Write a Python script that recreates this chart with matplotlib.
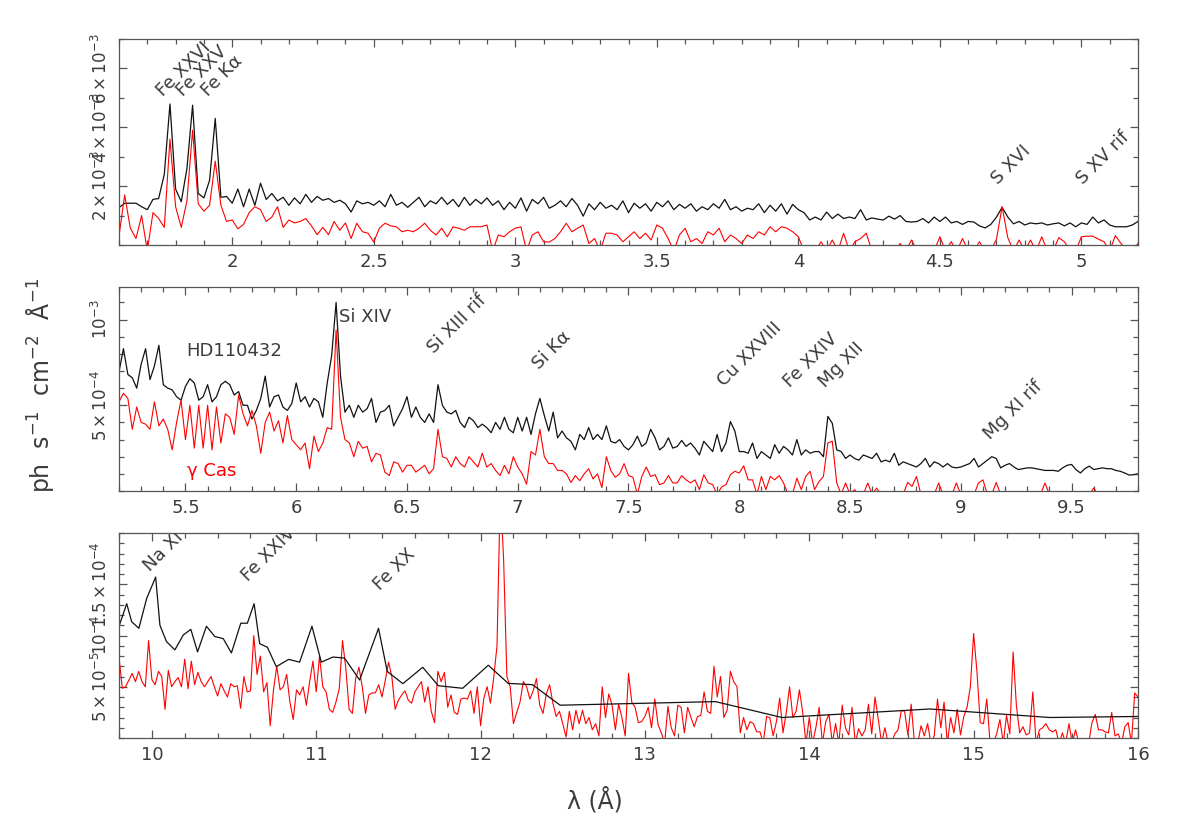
import matplotlib.pyplot as plt
import numpy as np
from matplotlib.ticker import MultipleLocator, FuncFormatter

plt.rcParams['font.family'] = ['DejaVu Sans']
plt.rcParams['mathtext.fontset'] = 'dejavusans'

# ---- top panel, 1.60 - 5.20 A, 0.02 A bins, flux in 1e-3 ph/s/cm2/A
top_start, top_step = 1.60, 0.02
top_hd = [
    1.27, 1.42, 1.42, 1.42, 1.30, 1.20, 1.55, 1.58, 2.40, 4.79,
    1.90, 1.47, 2.60, 4.75, 1.75, 1.60, 2.20, 4.30, 1.62, 1.65,
    1.42, 1.90, 1.30, 1.90, 1.35, 2.10, 1.55, 1.75, 1.50, 1.62,
    1.35, 1.60, 1.40, 1.72, 1.45, 1.65, 1.52, 1.58, 1.45, 1.52,
    1.40, 1.12, 1.50, 1.40, 1.45, 1.35, 1.50, 1.30, 1.72, 1.35,
    1.45, 1.28, 1.45, 1.62, 1.30, 1.50, 1.40, 1.62, 1.38, 1.55,
    1.30, 1.62, 1.35, 1.55, 1.40, 1.60, 1.35, 1.50, 1.20, 1.45,
    1.25, 1.60, 1.15, 1.55, 1.40, 1.62, 1.25, 1.35, 1.50, 1.30,
    1.58, 1.35, 0.98, 1.40, 1.20, 1.45, 1.25, 1.35, 1.20, 1.50,
    1.10, 1.42, 1.25, 1.40, 1.15, 1.45, 1.30, 1.50, 1.20, 1.38,
    1.25, 1.40, 1.15, 1.30, 1.20, 1.40, 1.25, 1.55, 1.20, 1.30,
    1.15, 1.25, 1.20, 1.40, 1.10, 1.35, 1.15, 1.40, 1.05, 1.38,
    1.20, 1.10, 0.85, 0.95, 0.85, 1.12, 0.90, 1.05, 0.90, 0.95,
    0.90, 1.20, 0.85, 0.92, 0.88, 0.85, 0.98, 0.88, 1.00, 0.80,
    0.78, 0.80, 0.90, 0.75, 0.95, 0.80, 0.95, 0.75, 0.80, 0.70,
    0.80, 0.78, 0.65, 0.58, 0.70, 0.95, 1.28, 0.95, 0.72, 0.80,
    0.68, 0.75, 0.72, 0.75, 0.68, 0.72, 0.75, 0.65, 0.75, 0.62,
    0.75, 0.70, 0.95, 0.75, 0.85, 0.68, 0.62, 0.62, 0.62, 0.68,
    0.80,
]
top_gcas = [
    0.30, 1.70, 0.57, 0.22, 1.00, -0.20, 1.10, 0.90, 0.60, 3.60,
    1.30, 0.60, 1.50, 3.90, 1.40, 1.15, 1.35, 2.85, 1.35, 0.80,
    0.85, 0.55, 0.70, 1.10, 1.30, 1.20, 0.80, 0.95, 1.30, 0.60,
    0.85, 0.75, 0.80, 0.90, 0.65, 0.35, 0.60, 0.35, 0.80, 0.50,
    0.75, 0.22, 0.74, 0.45, 0.40, 0.10, 0.57, 0.74, 0.65, 0.62,
    0.45, 0.50, 0.45, 0.57, 0.74, 0.50, 0.34, 0.57, 0.28, 0.62,
    0.57, 0.50, 0.62, 0.62, 0.62, 0.68, -0.20, 0.34, 0.28, 0.45,
    0.57, 0.62, -0.20, 0.34, 0.45, 0.11, 0.10, 0.22, 0.45, 0.74,
    0.45, 0.57, 0.68, 0.05, 0.22, -0.20, 0.40, 0.40, 0.34, 0.11,
    0.28, 0.45, 0.22, 0.40, 0.17, 0.68, 0.57, 0.22, -0.20, 0.34,
    0.57, 0.11, 0.22, 0.05, 0.45, 0.34, 0.57, 0.11, 0.34, 0.22,
    0.05, 0.34, 0.22, 0.45, 0.34, 0.62, 0.45, 0.62, 0.57, 0.45,
    0.28, -0.20, -0.20, -0.20, 0.11, -0.20, 0.17, -0.20, 0.40, -0.20,
    0.11, 0.22, 0.40, -0.20, -0.20, -0.20, -0.20, -0.20, 0.05, -0.20,
    0.17, -0.20, -0.20, -0.20, -0.20, 0.28, -0.20, 0.11, -0.20, 0.22,
    -0.20, -0.20, 0.11, -0.20, -0.20, 0.20, 1.30, 0.25, -0.20, 0.17,
    -0.20, 0.17, -0.20, 0.28, -0.20, -0.20, 0.25, 0.11, -0.20, -0.20,
    0.28, 0.30, 0.30, 0.20, 0.11, -0.20, 0.32, 0.05, -0.20, -0.20,
    0.05,
]

# ---- middle panel, 5.20 - 9.80 A, 0.02 A bins, flux in 1e-4
mid_start, mid_step = 5.20, 0.02
mid_hd = [
    6.96, 8.30, 6.80, 6.60, 6.00, 7.40, 8.30, 6.50, 7.30, 8.50,
    6.20, 6.00, 5.90, 5.50, 5.30, 6.10, 6.55, 6.30, 5.30, 5.50,
    6.20, 5.20, 5.50, 6.20, 6.40, 6.20, 5.60, 5.80, 5.00, 5.00,
    4.20, 4.70, 5.40, 6.70, 4.90, 5.50, 5.60, 4.90, 4.70, 5.10,
    6.30, 5.20, 5.50, 4.90, 5.40, 5.20, 4.30, 6.30, 7.90, 11.00,
    6.70, 4.60, 5.00, 4.30, 5.00, 4.60, 4.80, 5.40, 4.00, 4.60,
    4.70, 5.00, 3.80, 4.30, 4.80, 5.50, 4.30, 4.90, 4.30, 4.00,
    4.50, 4.00, 6.20, 5.00, 4.60, 4.50, 4.70, 4.00, 3.70, 4.30,
    4.10, 3.70, 3.90, 3.70, 3.40, 4.00, 3.60, 4.30, 3.60, 3.40,
    4.30, 3.50, 4.30, 3.30, 4.50, 5.40, 4.40, 3.50, 4.60, 3.10,
    3.50, 3.10, 2.90, 2.40, 3.30, 3.00, 3.70, 3.00, 3.30, 3.00,
    3.80, 2.90, 2.80, 3.00, 2.60, 2.40, 2.70, 3.20, 2.60, 2.80,
    3.60, 3.10, 2.40, 2.60, 3.10, 2.50, 2.60, 2.95, 2.60, 2.80,
    2.50, 2.10, 2.90, 2.60, 2.30, 3.30, 2.30, 2.80, 4.05, 3.50,
    2.30, 2.30, 2.20, 2.80, 1.90, 2.30, 2.10, 1.90, 2.70, 2.20,
    2.60, 2.40, 2.10, 3.00, 2.10, 2.40, 2.20, 2.30, 2.30, 2.00,
    4.35, 3.95, 2.40, 2.30, 1.90, 2.10, 1.90, 1.80, 2.10, 2.00,
    1.90, 2.20, 1.70, 1.80, 1.70, 2.20, 1.50, 1.70, 1.60, 1.50,
    1.40, 1.60, 1.90, 1.40, 1.70, 1.60, 1.40, 1.60, 1.40, 1.35,
    1.40, 1.50, 1.60, 1.90, 1.40, 1.60, 1.80, 2.00, 1.90, 1.35,
    1.50, 1.60, 1.40, 1.25, 1.30, 1.35, 1.35, 1.30, 1.25, 1.20,
    1.20, 1.20, 1.15, 1.35, 1.50, 1.55, 1.25, 1.05, 1.30, 1.45,
    1.25, 1.30, 1.35, 1.30, 1.30, 1.20, 1.15, 1.05, 0.93, 0.95,
    1.00,
]
mid_gcas = [
    5.20, 5.70, 5.40, 3.60, 4.90, 4.00, 3.90, 3.60, 5.20, 3.80,
    4.20, 3.60, 2.40, 4.00, 5.30, 3.00, 5.00, 2.50, 5.00, 2.50,
    5.00, 2.40, 4.90, 2.80, 4.50, 4.30, 3.30, 5.60, 4.50, 3.80,
    4.70, 3.80, 2.20, 4.00, 4.60, 3.50, 4.10, 2.80, 4.40, 3.00,
    2.70, 2.40, 2.80, 1.30, 3.20, 2.30, 2.80, 3.70, 3.60, 9.40,
    4.30, 3.00, 2.80, 2.00, 2.90, 2.50, 2.60, 1.70, 2.20, 2.10,
    1.10, 0.90, 1.70, 1.60, 1.10, 1.50, 1.50, 1.10, 1.30, 1.50,
    1.00, 1.30, 3.60, 2.00, 1.90, 1.40, 2.00, 1.60, 1.40, 2.00,
    1.70, 1.40, 2.20, 1.40, 1.60, 1.20, 0.90, 1.50, 1.00, 2.00,
    1.40, 1.00, 0.40, 2.30, 2.10, 3.60, 2.00, 1.60, 1.60, 1.20,
    1.20, 1.00, 0.50, 0.90, 0.60, 1.00, 1.30, 0.70, 1.00, 0.20,
    2.00, 1.20, 0.80, 1.00, 1.60, 0.90, 0.80, -0.20, 0.85, 1.40,
    0.85, 0.95, 0.37, 0.47, 0.90, 0.47, 0.47, 0.90, 0.65, 0.47,
    0.65, 0.08, 0.95, 0.47, 0.37, -0.20, 0.23, 0.37, 0.95, 1.15,
    1.05, 1.47, 0.65, 0.65, -0.20, 0.85, 0.08, 0.85, 0.65, 0.90,
    0.47, -0.20, -0.20, 0.75, 0.08, 0.85, 1.15, 0.08, 0.55, 0.85,
    2.80, 2.90, 0.47, -0.20, 0.47, -0.20, 0.08, -0.20, -0.20, 0.47,
    -0.20, 0.17, -0.20, -0.20, -0.20, -0.20, -0.20, -0.20, 0.50, 0.27,
    0.85, -0.20, -0.20, -0.20, -0.20, 0.47, -0.20, -0.20, -0.20, 0.47,
    -0.20, -0.20, -0.20, -0.20, 0.47, 0.65, -0.20, -0.20, 0.50, -0.20,
    -0.20, -0.20, -0.20, -0.20, -0.20, -0.20, -0.20, -0.20, -0.20, 0.47,
    -0.20, -0.20, -0.20, -0.20, -0.20, -0.20, -0.20, -0.20, -0.20, -0.20,
    0.17, -0.20, -0.20, -0.20, -0.20, -0.20, -0.20, -0.20, -0.20, -0.20,
    -0.20,
]

# ---- bottom panel, 9.80 - 16.00 A, flux in 1e-5
bot_start, bot_step = 9.80, 0.02
bot_gcas = [
    7.90, 4.85, 5.00, 5.66, 6.30, 5.50, 6.50, 5.50, 5.00, 9.50,
    5.70, 5.20, 6.50, 6.00, 2.80, 6.60, 5.00, 5.50, 5.90, 5.00,
    7.70, 4.80, 7.50, 5.20, 6.40, 5.50, 5.00, 5.50, 6.00, 5.00,
    4.10, 5.30, 4.60, 4.00, 5.30, 5.00, 5.10, 2.90, 6.00, 4.50,
    4.60, 10.00, 6.20, 8.00, 4.50, 5.40, 1.20, 4.70, 7.00, 4.70,
    5.00, 6.20, 3.50, 1.80, 4.70, 4.20, 5.00, 3.20, 5.50, 7.50,
    4.50, 8.00, 5.00, 4.50, 2.80, 2.50, 3.50, 4.80, 9.50, 6.80,
    2.80, 2.40, 5.80, 6.90, 5.00, 2.40, 4.20, 4.40, 4.40, 5.20,
    4.00, 5.60, 7.40, 6.00, 2.80, 3.70, 4.20, 4.60, 3.70, 3.40,
    4.50, 5.00, 5.50, 3.50, 5.00, 2.60, 1.50, 6.50, 5.50, 6.40,
    3.00, 4.20, 2.50, 2.30, 3.80, 3.90, 3.80, 4.60, 2.40, 5.00,
    1.20, 3.90, 5.00, 3.40, 5.90, 9.00, 24.0, 17.5, 6.00, 5.00,
    1.40, 2.50, 3.50, 5.50, 5.00, 3.80, 4.60, 5.80, 3.20, 2.40,
    4.30, 5.20, 3.40, 2.10, 2.60, 1.40, 0.10, 2.60, 0.80, 2.70,
    1.40, 2.70, 1.40, 2.00, 0.80, 1.40, 0.20, 5.00, 2.00, 4.30,
    3.20, 0.80, 3.30, 2.00, 0.20, 6.30, 3.50, 3.00, 1.50, 1.60,
    2.10, 3.00, 1.00, 3.80, 1.30, 0.50, -0.5, 3.10, 1.00, 0.20,
    3.20, 3.00, 0.50, 3.00, 2.00, 1.10, 2.10, 2.20, 4.50, 2.60,
    2.40, 7.00, 4.00, 6.00, 2.00, 2.70, 6.50, 5.50, 5.00, 0.50,
    2.00, 0.80, 1.60, 1.40, 0.60, 0.60, -0.5, 2.10, 2.00, 0.20,
    1.60, 3.90, 0.50, 2.50, 5.00, 2.00, 2.60, 4.70, 2.50, -0.5,
    2.00, -0.5, 1.00, 3.00, -0.5, 1.60, 2.30, -0.5, 1.40, -0.5,
    3.20, 1.00, 0.30, 3.00, -0.5, 0.90, 0.20, 0.80, 3.30, 0.40,
    4.00, 1.80, -0.5, 1.00, -0.5, -0.5, 0.40, 0.80, 2.70, 2.60,
    0.30, 3.30, -0.5, -0.5, 1.20, 0.20, 1.40, -0.5, 0.20, 3.80,
    1.00, 3.50, -0.5, 2.00, 0.50, 2.80, 0.30, 2.10, 3.00, 5.00,
    10.20, 6.50, 1.50, 1.40, 3.80, -0.5, -0.5, 0.40, 1.80, -0.5,
    2.20, 0.40, 8.40, 3.20, 0.50, 1.10, 0.30, 0.50, 4.50, -0.5,
    0.80, 1.00, 1.40, 0.80, 0.60, 0.80, -0.5, 0.50, -0.5, 1.40,
    -0.5, 0.80, -0.5, -0.5, -0.5, -0.5, 1.50, 2.30, 0.80, 0.80,
    0.60, 0.50, 2.50, 0.20, 0.40, -0.5, 1.10, 1.50, -0.5, 4.40,
    4.00,
]
# HD110432 is coarsely binned here
bot_hd_wl = [
    9.800, 9.847, 9.877, 9.921, 9.968, 10.023, 10.049, 10.089, 10.140, 10.191,
    10.237, 10.278, 10.332, 10.383, 10.434, 10.484, 10.541, 10.581, 10.622, 10.656,
    10.703, 10.757, 10.832, 10.899, 10.974, 11.031, 11.102, 11.172, 11.264, 11.379,
    11.432, 11.527, 11.648, 11.743, 11.891, 12.047, 12.168, 12.316, 12.484, 13.429,
    13.834, 14.734, 15.463, 16.000,
]
bot_hd = [
    10.9, 13.1, 11.35, 10.7, 13.6, 15.7, 11.0, 9.4, 8.6, 10.05,
    10.6, 8.4, 10.9, 9.9, 9.7, 8.3, 11.2, 11.2, 13.1, 9.2,
    8.85, 6.96, 7.67, 7.4, 10.9, 7.4, 7.9, 7.8, 5.66, 10.7,
    6.5, 5.3, 6.9, 5.1, 4.85, 7.1, 5.33, 5.2, 3.2, 3.55,
    2.0, 2.83, 2.0, 2.1,
]

top_lines = [('Fe XXVI', 1.756, 5.03e-3), ('Fe XXV', 1.827, 5.03e-3), ('Fe K\u03b1', 1.915, 5.03e-3),
             ('S XVI', 4.704, 2.04e-3), ('S XV rif', 5.004, 2.04e-3)]
mid_lines = [('Si XIII rif', 6.623, 8.02e-4), ('Si K\u03b1', 7.096, 7.05e-4), ('Cu XXVIII', 7.93, 6.08e-4),
             ('Fe XXIV', 8.23, 5.99e-4), ('Mg XII', 8.388, 5.99e-4), ('Mg XI rif', 9.131, 2.98e-4)]
bot_lines = [('Na XI', 9.988, 16.2e-5), ('Fe XXIV', 10.585, 15.25e-5), ('Fe XX', 11.385, 14.3e-5)]

GRAY = '#3c3c3c'
W, H = 1196, 822
fig = plt.figure(figsize=(W / 100, H / 100), dpi=100)


def panel(top_px, bot_px):
    return fig.add_axes([119 / W, 1 - bot_px / H, (1138 - 119) / W, (bot_px - top_px) / H])


def style(ax, xlim, ylim, xmaj, xmin, yticks, ylabels, ymin):
    ax.set_xlim(*xlim)
    ax.set_ylim(*ylim)
    ax.xaxis.set_major_locator(MultipleLocator(xmaj))
    ax.xaxis.set_minor_locator(MultipleLocator(xmin))
    ax.xaxis.set_major_formatter(FuncFormatter(lambda v, p: f'{v:g}'))
    ax.set_yticks(yticks, ylabels, rotation=90, va='center', fontsize=12)
    ax.yaxis.set_minor_locator(MultipleLocator(ymin))
    ax.tick_params(which='both', direction='in', top=True, right=True,
                   color='#555555', labelcolor=GRAY)
    ax.tick_params(axis='x', labelsize=13)
    ax.tick_params(which='major', length=6, width=0.9, pad=6)
    ax.tick_params(which='minor', length=3.5, width=0.9)
    for s in ax.spines.values():
        s.set_color('#555555')
        s.set_linewidth(0.9)


def label_lines(ax, lines):
    for txt, x, y in lines:
        ax.text(x, y, txt, rotation=45, rotation_mode='anchor', ha='left', va='baseline',
                fontsize=13, color=GRAY, clip_on=True)


# top
ax1 = panel(39, 245)
wl = top_start + top_step * np.arange(len(top_hd))
ax1.plot(wl, np.array(top_hd) * 1e-3, color='#111111', lw=0.9)
wl = top_start + top_step * np.arange(len(top_gcas))
ax1.plot(wl, np.array(top_gcas) * 1e-3, color='red', lw=0.8)
style(ax1, (1.6, 5.2), (0, 7e-3), 0.5, 0.1, [2e-3, 4e-3, 6e-3],
      [r'$2\times10^{-3}$', r'$4\times10^{-3}$', r'$6\times10^{-3}$'], 1e-3)
label_lines(ax1, top_lines)

# middle
ax2 = panel(287, 491)
wl = mid_start + mid_step * np.arange(len(mid_hd))
ax2.plot(wl, np.array(mid_hd) * 1e-4, color='#111111', lw=0.9)
wl = mid_start + mid_step * np.arange(len(mid_gcas))
ax2.plot(wl, np.array(mid_gcas) * 1e-4, color='red', lw=0.8)
style(ax2, (5.2, 9.8), (0, 1.19e-3), 0.5, 0.1, [5e-4, 1e-3],
      [r'$5\times10^{-4}$', r'$10^{-3}$'], 1e-4)
label_lines(ax2, mid_lines)
ax2.text(6.191, 9.88e-4, 'Si XIV', fontsize=13, color=GRAY, va='baseline')
ax2.text(5.505, 7.87e-4, 'HD110432', fontsize=13, color=GRAY, va='baseline')
ax2.text(5.505, 0.89e-4, '\u03b3 Cas', fontsize=13, color='red', va='baseline')

# bottom
ax3 = panel(533, 738)
wl = bot_start + bot_step * np.arange(len(bot_gcas))
ax3.plot(wl, np.array(bot_gcas) * 1e-5, color='red', lw=0.8)
ax3.plot(bot_hd_wl, np.array(bot_hd) * 1e-5, color='#111111', lw=0.9)
style(ax3, (9.8, 16.0), (0, 2e-4), 1, 0.2, [5e-5, 1e-4, 1.5e-4],
      [r'$5\times10^{-5}$', r'$10^{-4}$', r'$1.5\times10^{-4}$'], 1e-5)
label_lines(ax3, bot_lines)

fig.text(40 / W, 1 - 385 / H, r'ph  s$^{-1}$  cm$^{-2}$  Å$^{-1}$', rotation=90,
         fontsize=17, color=GRAY, ha='center', va='center')
fig.text(595 / W, 1 - 800 / H, '\u03bb (Å)', fontsize=17, color=GRAY, ha='center', va='center')

fig.savefig('out.png', dpi=100)
